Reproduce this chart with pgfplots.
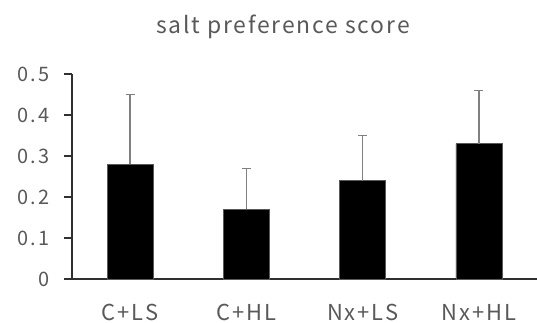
\documentclass[border=0pt]{standalone}
\usepackage{pgfplots}
\pgfplotsset{compat=1.18}
\usepackage{fontspec}
\setmainfont{Noto Sans CJK JP}
\definecolor{txt}{HTML}{595959}
\definecolor{axl}{HTML}{303030}
\definecolor{err}{HTML}{808080}
\begin{document}
\begin{tikzpicture}[x=1bp,y=1bp]
\path[use as bounding box] (0,0) rectangle (537,322);
\begin{axis}[
  at={(72bp,43bp)}, anchor=south west,
  scale only axis, width=465bp, height=205bp,
  xmin=-0.5, xmax=3.5, ymin=0, ymax=0.5,
  axis x line=bottom, axis y line=left,
  axis line style={draw=axl, line width=1.8bp, -},
  xtick=data, xticklabels={C+LS, C+HL, Nx+LS, Nx+HL},
  xtick style={draw=none},
  ytick={0,0.1,0.2,0.3,0.4,0.5},
  yticklabels={0,0.1,0.2,0.3,0.4,0.5},
  ytick style={draw=axl, line width=1.8bp},
  tick align=outside, major tick length=8bp,
  yticklabel style={font=\fontsize{20}{20}\selectfont\addfontfeature{LetterSpace=12}, text=txt, anchor=east, inner sep=0pt, xshift=-14bp},
  xticklabel style={font=\fontsize{22}{22}\selectfont\addfontfeature{LetterSpace=9}, text=txt, anchor=base, inner sep=0pt, yshift=-33bp},
  clip=false,
]
\addplot[ybar, bar width=46bp, fill=black, draw=gray!70!black, line width=0.6bp,
  error bars/.cd, y dir=plus, y explicit,
  error bar style={color=err, line width=1.4bp},
  error mark options={rotate=90, mark size=4.5bp, line width=1.4bp, color=err}]
coordinates {
 (0,0.28) +- (0,0.17)
 (1,0.17) +- (0,0.10)
 (2,0.24) +- (0,0.11)
 (3,0.33) +- (0,0.13)
};
\end{axis}
\node[anchor=base, text=txt, font=\fontsize{23}{23}\selectfont\addfontfeature{LetterSpace=8}, inner sep=0pt] at (283,289) {salt preference score};
\end{tikzpicture}
\end{document}
